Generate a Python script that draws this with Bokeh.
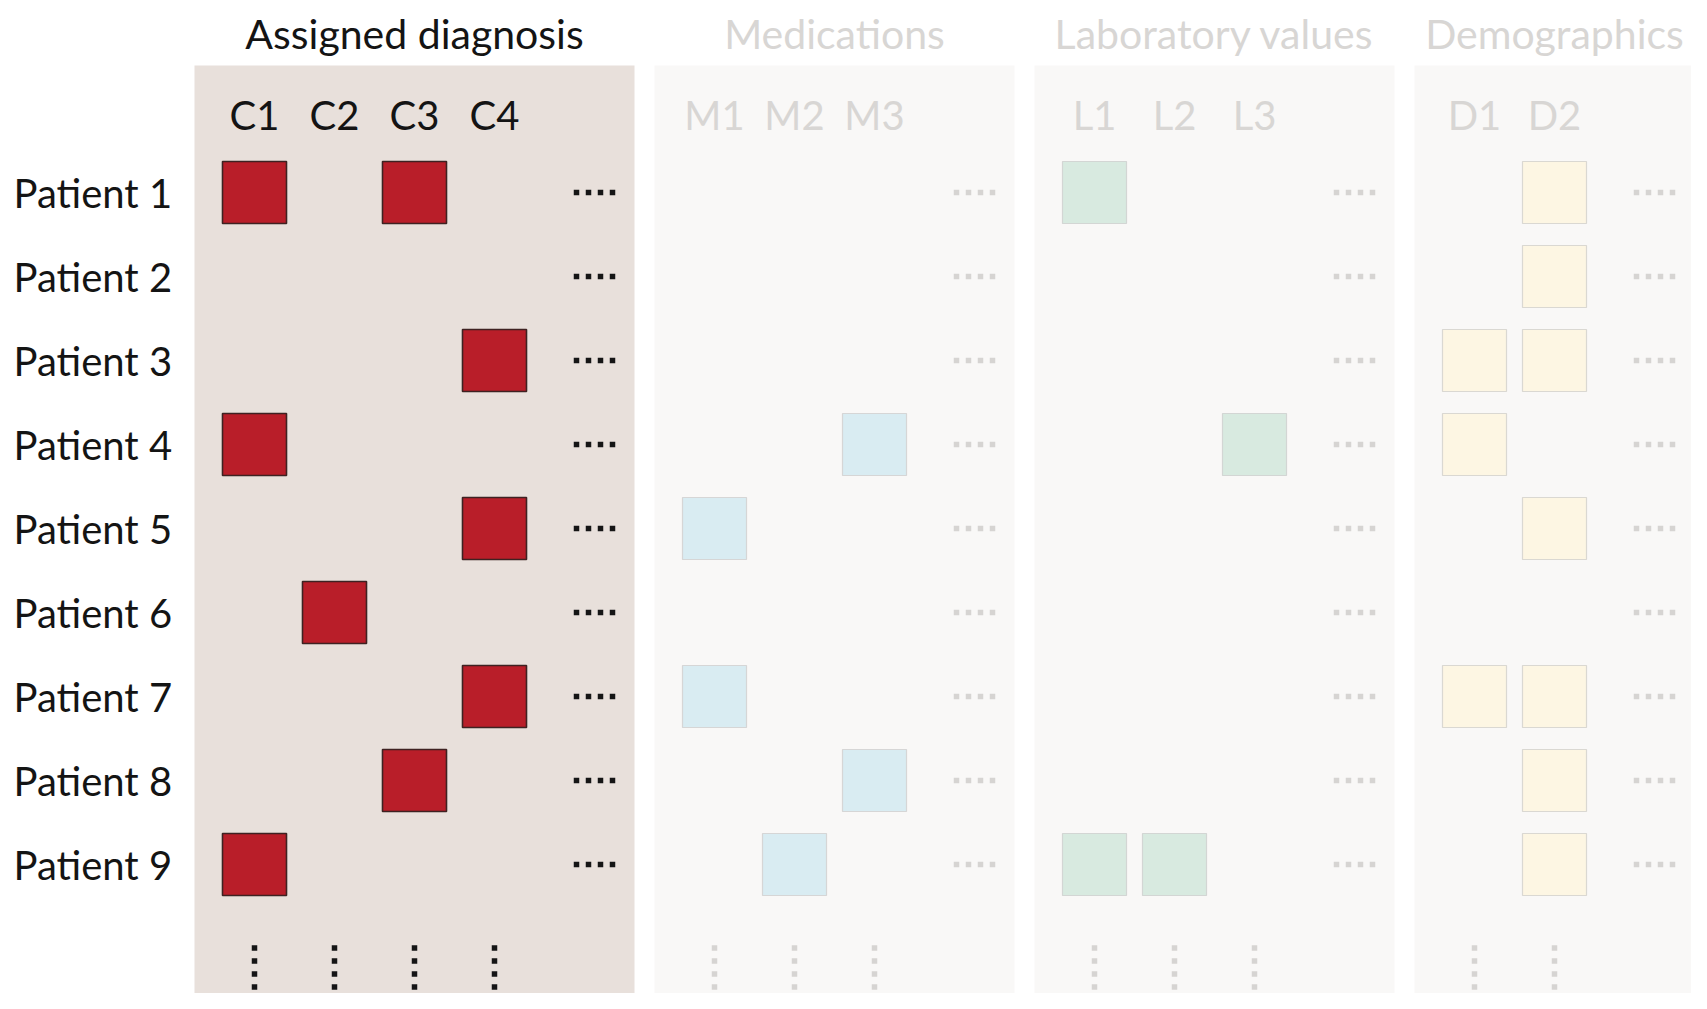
from bokeh.plotting import figure
from bokeh.models import Range1d
from bokeh.core.properties import value
from bokeh.embed import file_html
from bokeh.resources import INLINE

# ---------------- data ----------------
patients = ["Patient 1", "Patient 2", "Patient 3", "Patient 4", "Patient 5",
            "Patient 6", "Patient 7", "Patient 8", "Patient 9"]
groups = ["Assigned diagnosis", "Medications", "Laboratory values", "Demographics"]
diag_cols = ["C1", "C2", "C3", "C4"]
med_cols = ["M1", "M2", "M3"]
lab_cols = ["L1", "L2", "L3"]
demo_cols = ["D1", "D2"]

# per patient: which columns are present
diagnosis = [["C1", "C3"], [], ["C4"], ["C1"], ["C4"], ["C2"], ["C4"], ["C3"], ["C1"]]
medications = [[], [], [], ["M3"], ["M1"], [], ["M1"], ["M3"], ["M2"]]
laboratory = [["L1"], [], [], ["L3"], [], [], [], [], ["L1", "L2"]]
demographics = [["D2"], ["D2"], ["D1", "D2"], ["D1"], ["D2"], [], ["D1", "D2"], ["D2"], ["D2"]]

# ---------------- styling / layout ----------------
W, H = 1691, 993
COL = 80          # spacing between columns
ROW = 84          # spacing between rows
ROW0 = 192        # first row centre
PANEL_TOP = 65
FIRST_OFF = 60
GAP = 20
LEFT0 = 194
FONT = value("Lato")

panel_fill = ["#E8E0DB", "#F9F8F7", "#F9F8F7", "#F9F8F7"]
cell_fill = ["#B91E29", "#D9ECF2", "#D8EAE0", "#FDF6E3"]
cell_line = ["#3E2222", "#D6D6D6", "#D3D6D4", "#DAD8D2"]
text_col = ["#141414", "#D8D6D4", "#D8D6D4", "#D8D6D4"]
dot_col = ["#151515", "#D6D4D2", "#D6D4D2", "#D6D4D2"]

group_cols = [diag_cols, med_cols, lab_cols, demo_cols]
group_data = [diagnosis, medications, laboratory, demographics]

p = figure(width=W, height=H, output_backend="svg", toolbar_location=None,
           x_range=Range1d(0, W), y_range=Range1d(H, 0),
           min_border=0, outline_line_color=None, background_fill_color="white")
p.axis.visible = False
p.grid.visible = False

row_y = [ROW0 + i * ROW for i in range(len(patients))]

left = LEFT0
for g, (title, cols, data) in enumerate(zip(groups, group_cols, group_data)):
    width = (len(cols) - 1) * COL + 200
    right = left + width
    # panel background
    p.quad(left=[left], right=[right], top=[PANEL_TOP], bottom=[H + 30],
           fill_color=panel_fill[g], line_color=None)
    # title
    p.text(x=[(left + right) / 2], y=[33], text=[title], text_font=FONT,
           text_font_size="41px", text_color=text_col[g],
           text_align="center", text_baseline="middle")
    col_x = {c: left + FIRST_OFF + i * COL for i, c in enumerate(cols)}
    # column labels
    p.text(x=[col_x[c] for c in cols], y=[114] * len(cols), text=cols,
           text_font=FONT, text_font_size="40px", text_color=text_col[g],
           text_align="center", text_baseline="middle")
    # cells
    xs, ys = [], []
    for i, present in enumerate(data):
        for c in present:
            xs.append(col_x[c])
            ys.append(row_y[i])
    p.rect(x=xs, y=ys, width=64, height=62, fill_color=cell_fill[g],
           line_color=cell_line[g], line_width=1.6 if g == 0 else 1.2)
    # horizontal ellipsis dots per row
    hx, hy = [], []
    dcx = right - 40
    for y in row_y:
        for k in (-18, -6, 6, 18):
            hx.append(dcx + k)
            hy.append(y)
    p.scatter(x=hx, y=hy, marker="square", size=5.5, fill_color=dot_col[g],
              line_color=None)
    # vertical ellipsis dots per column
    vx, vy = [], []
    for c in cols:
        for k in (-19.5, -6.5, 6.5, 19.5):
            vx.append(col_x[c])
            vy.append(967 + k)
    p.scatter(x=vx, y=vy, marker="square", size=5.5, fill_color=dot_col[g],
              line_color=None)
    left = right + GAP

# patient labels
p.text(x=[13] * len(patients), y=row_y, text=patients, text_font=FONT,
       text_font_size="40px", text_color="#141414",
       text_align="left", text_baseline="middle")

open("out.html", "w").write(file_html(p, INLINE))
